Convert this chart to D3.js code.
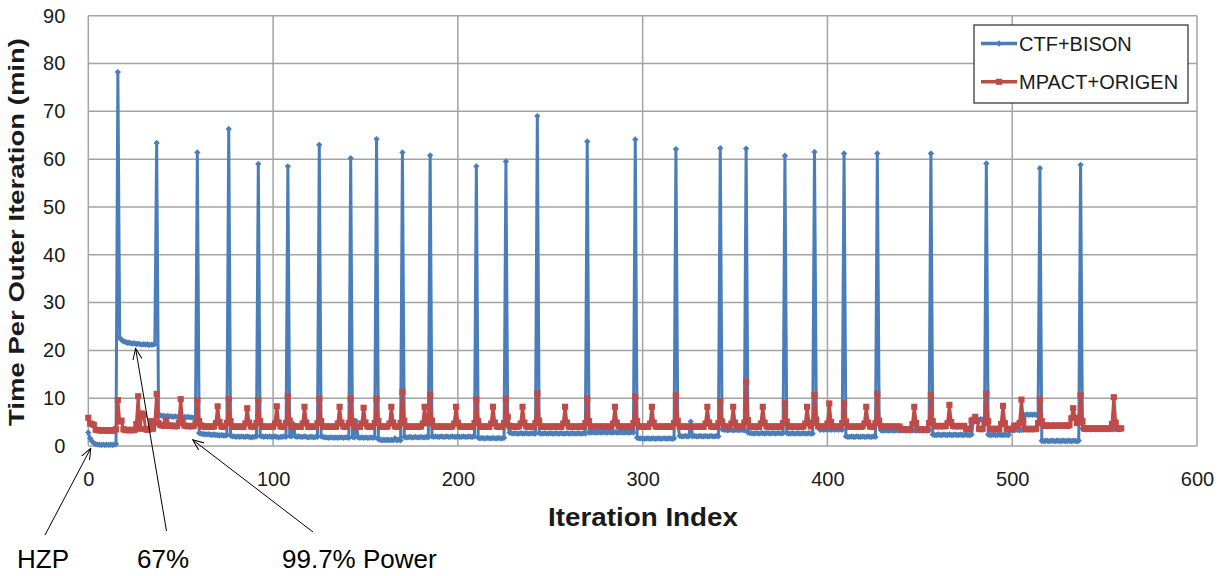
<!DOCTYPE html>
<html>
<head>
<meta charset="utf-8">
<script type="text/javascript" src="https://d3js.org/d3.v7.min.js"></script>
<style>
  body { margin: 0; background: #fff; }
  text { font-family: "Liberation Sans", Arial, sans-serif; }
</style>
</head>
<body>
<div id="chart"></div>
<script type="text/javascript">
  const w = 1225
  const h = 576

  // time per outer iteration (min), one value per iteration index 0..559
  const ctfBison = [
    2.8,1.6,1.0,0.6,0.4,0.3,0.3,0.2,0.3,0.2,0.3,0.2,0.3,0.2,0.3,0.4,78.2,22.6,22.2,21.9,
    21.8,21.6,21.6,21.5,21.4,21.5,21.3,21.4,21.3,21.2,21.3,21.2,21.3,21.1,21.2,21.2,21.3,63.4,6.6,6.4,
    6.3,6.3,6.2,6.3,6.2,6.2,6.1,6.2,6.1,6.2,6.1,6.0,6.1,6.0,6.1,6.0,6.0,5.9,6.0,61.4,
    2.7,2.6,2.5,2.5,2.4,2.5,2.4,2.3,2.4,2.3,2.3,2.2,2.3,2.2,2.2,2.3,66.3,2.2,2.0,2.0,
    1.9,2.0,1.9,2.0,1.9,1.9,2.0,1.9,1.8,1.9,1.9,2.0,59.0,2.1,2.0,1.9,2.0,1.9,2.0,1.9,
    1.9,2.0,1.9,1.8,1.9,1.9,2.0,1.9,58.5,2.1,2.0,4.6,2.0,1.9,2.0,1.9,1.9,2.0,1.9,1.8,
    1.9,1.9,1.8,1.9,1.9,63.0,2.0,1.9,1.8,1.8,1.7,1.8,1.8,1.7,1.8,1.7,1.8,1.8,1.7,1.8,
    1.8,1.7,60.2,1.9,1.8,5.2,1.8,1.7,1.8,1.7,1.8,1.7,1.7,1.8,1.7,1.8,64.2,1.4,1.3,1.2,
    1.3,1.2,1.3,1.2,1.3,1.2,1.6,1.2,1.3,1.2,61.4,1.9,1.8,1.8,1.9,1.8,1.8,1.9,1.8,1.8,
    1.9,1.8,1.8,1.9,1.8,60.8,2.0,1.9,2.0,1.9,1.9,2.0,1.9,1.9,2.0,1.9,1.9,2.0,1.9,1.9,
    2.0,1.9,1.9,2.0,1.9,1.9,2.0,1.9,1.9,2.0,58.5,1.7,1.6,1.7,1.6,1.6,1.7,1.6,1.6,1.7,
    1.6,1.6,1.7,1.6,1.6,1.7,59.5,4.2,2.8,2.7,2.6,2.7,2.6,2.6,2.7,2.6,2.6,2.7,2.6,2.6,
    2.7,2.6,2.6,69.0,2.7,2.6,2.6,2.7,2.6,2.6,2.7,2.6,2.6,2.7,2.6,2.6,2.7,2.6,2.6,2.7,
    2.6,2.6,2.7,2.6,2.6,2.7,2.6,2.6,2.7,2.6,63.7,2.8,2.8,2.9,2.8,2.8,2.9,2.8,2.8,2.9,
    2.8,2.8,2.9,2.8,2.8,2.9,2.8,2.8,2.9,2.8,2.8,2.9,2.8,2.8,2.9,2.8,64.1,1.7,1.6,1.6,
    1.6,1.5,1.6,1.6,1.5,1.6,1.6,1.5,1.6,1.6,1.5,1.6,1.6,1.5,1.6,1.6,1.5,1.6,62.1,4.7,
    2.1,2.0,2.0,2.1,2.0,2.0,5.1,2.0,2.1,2.0,2.0,2.1,2.0,2.0,2.1,2.0,2.0,2.1,2.0,2.0,
    2.1,2.0,62.3,3.5,3.4,3.4,3.3,3.4,3.4,3.3,3.4,3.4,3.3,3.4,3.4,3.3,62.2,2.8,2.7,2.7,
    2.6,2.7,2.7,2.6,2.7,2.7,2.6,2.7,2.7,2.6,2.7,2.7,2.6,2.7,2.7,2.6,2.7,60.7,2.7,2.6,
    2.6,2.7,2.6,2.6,2.7,2.6,2.6,2.7,2.6,2.6,2.7,2.6,2.6,61.5,6.0,4.0,3.4,3.5,3.4,3.5,
    3.4,3.5,3.4,3.5,3.4,3.5,3.4,3.5,3.4,61.2,2.0,1.9,1.9,2.0,1.9,1.9,2.0,1.9,1.9,2.0,
    1.9,1.9,2.0,1.9,1.9,2.0,1.9,61.2,4.9,3.3,3.2,3.3,3.3,3.2,3.3,3.3,3.2,3.3,3.3,3.2,
    3.3,3.3,3.2,3.3,3.3,3.2,3.3,3.3,3.2,3.3,3.3,3.2,3.3,3.3,3.2,3.3,61.2,2.4,2.3,2.3,
    2.4,2.3,2.3,2.4,2.3,2.3,2.4,2.3,2.3,2.4,2.3,2.3,2.4,2.3,2.3,2.4,2.3,2.3,2.4,5.4,
    5.5,5.6,5.5,5.6,5.5,5.6,59.1,2.4,2.3,2.3,2.4,2.3,2.3,2.4,2.3,2.3,2.4,2.3,2.3,3.4,
    3.4,3.3,3.4,3.4,3.3,3.4,3.4,6.5,6.6,6.5,6.6,6.5,6.6,6.5,6.6,58.1,1.1,1.0,1.1,1.1,
    1.0,1.1,1.1,1.0,1.1,1.1,1.0,1.1,1.1,1.0,1.1,1.1,1.0,1.1,1.1,1.0,1.1,58.8,3.6,3.5,
    3.5,3.6,3.5,3.5,3.6,3.5,3.5,3.6,3.5,3.5,3.6,3.5,3.5,3.6,3.5,3.5,3.6,3.5,3.5,3.6
  ]

  const mpactOrigen = [
    5.9,4.7,4.6,4.4,3.4,3.3,3.3,3.2,3.3,3.3,3.2,3.3,3.3,3.2,3.3,3.5,9.6,5.1,5.3,3.5,
    3.3,3.4,3.3,3.3,3.4,3.3,4.6,10.4,3.6,6.8,6.5,3.5,3.4,3.5,5.2,3.6,4.8,10.9,4.8,4.4,
    4.3,4.2,5.3,4.3,4.2,4.3,4.2,4.1,4.2,4.8,9.8,5.1,4.3,4.2,4.1,4.2,4.1,4.2,4.7,9.6,
    5.2,4.3,4.1,4.0,4.1,4.0,4.1,4.0,4.1,4.8,8.3,5.0,4.1,4.0,4.1,4.8,9.8,5.2,4.1,4.0,
    4.1,4.0,4.0,4.1,4.0,4.7,7.9,4.9,4.1,4.0,4.1,4.8,9.6,5.2,4.1,4.0,4.1,4.0,4.0,4.1,
    4.0,4.7,8.3,4.9,4.1,4.0,4.1,4.8,10.4,5.3,4.1,4.0,4.1,4.0,4.1,4.0,4.7,8.2,4.9,4.0,
    4.1,4.0,4.1,4.0,4.8,9.9,5.2,4.1,4.0,4.1,4.0,4.1,4.0,4.1,4.0,4.7,8.2,4.9,4.1,4.0,
    4.1,4.8,9.9,5.2,4.1,4.0,4.1,4.0,4.7,8.0,4.9,4.1,4.0,4.1,4.0,4.8,9.9,5.2,4.1,4.0,
    4.1,4.0,4.1,4.7,8.2,4.9,4.1,4.0,4.1,4.8,11.3,5.3,4.1,4.0,4.1,4.0,4.1,4.0,4.1,4.0,
    4.1,4.7,8.2,4.9,4.8,10.6,5.3,4.1,4.0,4.1,4.0,4.1,4.0,4.1,4.0,4.1,4.0,4.1,4.7,8.2,
    4.9,4.1,4.0,4.1,4.0,4.1,4.0,4.1,4.0,4.8,9.7,5.2,4.1,4.0,4.1,4.0,4.1,4.0,4.7,8.2,
    4.9,4.1,4.0,4.1,4.0,4.8,9.9,6.1,4.2,4.1,4.0,4.1,4.0,4.1,4.7,8.2,4.9,4.1,4.0,4.1,
    4.0,4.1,4.8,11.0,5.3,4.1,4.0,4.1,4.0,4.1,4.0,4.1,4.0,4.1,4.0,4.1,4.0,4.7,8.2,4.9,
    4.1,4.0,4.1,4.0,4.1,4.0,4.1,4.0,4.1,4.8,9.9,5.2,4.1,4.0,4.1,4.0,4.1,4.0,4.1,4.0,
    4.1,4.0,4.1,4.0,4.7,8.2,4.9,4.1,4.0,4.1,4.0,4.1,4.0,4.1,4.0,4.8,10.3,5.2,4.1,4.0,
    4.1,4.0,4.1,4.0,4.7,8.2,4.9,4.1,4.0,4.1,4.0,4.1,4.0,4.1,4.0,4.1,4.0,4.8,10.6,5.3,
    4.1,4.0,4.1,4.0,4.1,4.0,4.1,4.0,4.1,4.0,4.1,4.0,4.1,4.0,4.7,8.2,4.9,4.1,4.0,4.1,
    4.0,4.8,9.3,5.1,4.1,4.0,4.1,4.0,4.7,8.2,4.9,4.1,4.0,4.1,4.0,4.9,13.4,5.4,4.1,4.0,
    4.1,4.0,4.1,4.0,4.7,8.2,4.9,4.1,4.0,4.1,4.0,4.1,4.0,4.1,4.0,4.1,4.8,8.9,5.1,4.1,
    4.0,4.1,4.0,4.1,4.0,4.1,4.0,4.1,4.7,8.2,4.9,4.1,4.8,10.6,5.3,4.1,4.0,4.1,4.0,4.1,
    4.7,8.9,5.0,4.1,4.0,4.1,4.0,4.1,4.8,8.9,5.1,4.1,4.0,4.1,4.0,4.1,4.0,4.1,4.0,4.1,
    4.7,8.2,4.9,4.1,4.0,4.1,4.8,10.9,5.3,4.1,4.0,4.1,4.0,4.1,4.0,4.1,4.0,4.1,4.0,4.1,
    3.6,3.5,3.4,3.5,3.4,3.5,4.6,8.2,4.8,3.5,3.4,3.5,3.4,3.5,3.4,4.8,10.6,5.2,4.2,4.1,
    4.2,4.1,4.2,4.1,4.2,4.8,8.6,5.0,4.2,4.1,4.2,4.1,4.2,4.1,4.2,3.6,3.5,3.6,5.3,5.5,
    6.1,5.2,3.6,3.5,3.6,4.8,10.9,5.2,3.6,3.5,3.6,3.5,3.6,3.5,4.6,8.4,4.8,3.6,3.5,3.6,
    3.5,4.2,4.3,4.2,4.8,9.7,5.1,3.6,3.5,3.6,3.5,3.6,3.5,3.6,4.8,9.7,5.2,4.3,4.2,4.3,
    4.2,4.3,4.2,4.3,4.2,4.3,4.2,4.3,4.2,4.3,4.2,4.4,5.8,7.9,5.9,4.8,4.9,10.6,5.2,3.7,
    3.6,3.7,3.6,3.7,3.6,3.7,3.6,3.7,3.6,3.7,3.6,3.7,3.6,3.7,4.6,10.2,4.9,3.7,3.6,3.7
  ]

  const seriesNames = ["CTF+BISON", "MPACT+ORIGEN"]
  const xTicks = [0, 100, 200, 300, 400, 500, 600]
  const yTicks = [0, 10, 20, 30, 40, 50, 60, 70, 80, 90]
  const notes = ["HZP", "67%", "99.7% Power"]

  const colors = ["#4a7ebb", "#be4b48"]
  const gridColor = "#a3a3a3"
  const textColor = "#1a1a1a"

  const x_scale = d3.scaleLinear().domain([0, 600]).range([88.3, 1197])
  const y_scale = d3.scaleLinear().domain([0, 90]).range([446, 15.7])

  const svg = d3.select("#chart")
    .append("svg")
    .attr("width", w)
    .attr("height", h)
    .attr("viewBox", [0, 0, w, h])

  svg.append("defs").append("marker")
    .attr("id", "arrow")
    .attr("viewBox", "0 0 12 10")
    .attr("refX", 11)
    .attr("refY", 5)
    .attr("markerWidth", 12)
    .attr("markerHeight", 10)
    .attr("markerUnits", "userSpaceOnUse")
    .attr("orient", "auto")
    .append("path")
      .attr("d", "M0,0.5 L11,5 L0,9.5")
      .attr("fill", "none")
      .attr("stroke", "#000")
      .attr("stroke-width", 1)

  // grid
  const grid = svg.append("g")
  grid.selectAll("line.gx")
    .data(xTicks)
    .enter().append("line")
      .attr("x1", d => x_scale(d)).attr("x2", d => x_scale(d))
      .attr("y1", y_scale(90)).attr("y2", y_scale(0))
      .attr("stroke", gridColor).attr("stroke-width", 1.5)
  grid.selectAll("line.gy")
    .data(yTicks)
    .enter().append("line")
      .attr("x1", x_scale(0)).attr("x2", x_scale(600))
      .attr("y1", d => y_scale(d)).attr("y2", d => y_scale(d))
      .attr("stroke", gridColor).attr("stroke-width", 1.5)

  // axes built from the scales, then restyled
  const xAxis = g => g
    .attr("transform", `translate(0, ${y_scale(0)})`)
    .call(d3.axisBottom(x_scale).tickValues(xTicks).tickSize(0).tickPadding(26))
  const yAxis = g => g
    .attr("transform", `translate(${x_scale(0)}, 0)`)
    .call(d3.axisLeft(y_scale).tickValues(yTicks).tickSize(0).tickPadding(23))

  svg.append("g").call(xAxis)
  svg.append("g").call(yAxis)
  svg.selectAll(".domain").remove()
  svg.selectAll(".tick text")
    .attr("font-family", "'Liberation Sans', Arial, sans-serif")
    .attr("font-size", "20px")
    .attr("fill", textColor)

  svg.append("text")
    .attr("x", 643)
    .attr("y", 526)
    .attr("text-anchor", "middle")
    .attr("font-size", "25px")
    .attr("font-weight", "bold")
    .attr("fill", textColor)
    .attr("textLength", 190)
    .attr("lengthAdjust", "spacingAndGlyphs")
    .text("Iteration Index")

  svg.append("text")
    .attr("transform", "translate(24, 232) rotate(-90)")
    .attr("text-anchor", "middle")
    .attr("font-size", "22px")
    .attr("font-weight", "bold")
    .attr("fill", textColor)
    .attr("textLength", 388)
    .attr("lengthAdjust", "spacingAndGlyphs")
    .text("Time Per Outer Iteration (min)")

  // series
  const series = [ctfBison, mpactOrigen]
  const line = d3.line()
    .x((d, i) => x_scale(i))
    .y(d => y_scale(d))

  const diamond = d3.symbol().type(d3.symbolSquare).size(20)
  const square = d3.symbol().type(d3.symbolSquare).size(38)

  series.forEach((data, k) => {
    const g = svg.append("g")
    g.append("path")
      .datum(data)
      .attr("d", line)
      .attr("fill", "none")
      .attr("stroke", colors[k])
      .attr("stroke-width", 3)
      .attr("stroke-linejoin", "round")

    g.selectAll("path.pt")
      .data(data)
      .enter().append("path")
        .attr("class", "pt")
        .attr("d", k === 0 ? diamond : square)
        .attr("transform", (d, i) => `translate(${x_scale(i)}, ${y_scale(d)})` + (k === 0 ? " rotate(45)" : ""))
        .attr("fill", colors[k])
  })

  // legend
  const legend = svg.append("g")
  legend.append("rect")
    .attr("x", 974).attr("y", 25)
    .attr("width", 214).attr("height", 78)
    .attr("fill", "#fff")
    .attr("stroke", "#3a3a3a")
    .attr("stroke-width", 1.3)

  seriesNames.forEach((name, k) => {
    const ly = 43.5 + k * 38.3
    legend.append("line")
      .attr("x1", 981).attr("x2", 1017)
      .attr("y1", ly).attr("y2", ly)
      .attr("stroke", colors[k])
      .attr("stroke-width", 3.5)
    legend.append("path")
      .attr("d", k === 0 ? diamond : square)
      .attr("transform", `translate(999, ${ly})` + (k === 0 ? " rotate(45)" : ""))
      .attr("fill", colors[k])
    legend.append("text")
      .attr("x", 1019)
      .attr("y", ly)
      .attr("dy", "0.36em")
      .attr("font-size", "20px")
      .attr("fill", textColor)
      .text(name)
  })

  // annotations: label position and the data point each arrow points at
  const noteLabels = [
    {x: 17, tail: [45, 535], tip: [1.3, -0.5]},
    {x: 137, tail: [166.5, 531], tip: [25.6, 20.4]},
    {x: 282, tail: [313, 532], tip: [56.5, 1.3]}
  ]

  notes.forEach((txt, k) => {
    const n = noteLabels[k]
    svg.append("line")
      .attr("x1", n.tail[0]).attr("y1", n.tail[1])
      .attr("x2", x_scale(n.tip[0])).attr("y2", y_scale(n.tip[1]))
      .attr("stroke", "#000")
      .attr("stroke-width", 1)
      .attr("marker-end", "url(#arrow)")
    svg.append("text")
      .attr("x", n.x)
      .attr("y", 568)
      .attr("font-size", "26px")
      .attr("fill", "#000")
      .text(txt)
  })
</script>
</body>
</html>
